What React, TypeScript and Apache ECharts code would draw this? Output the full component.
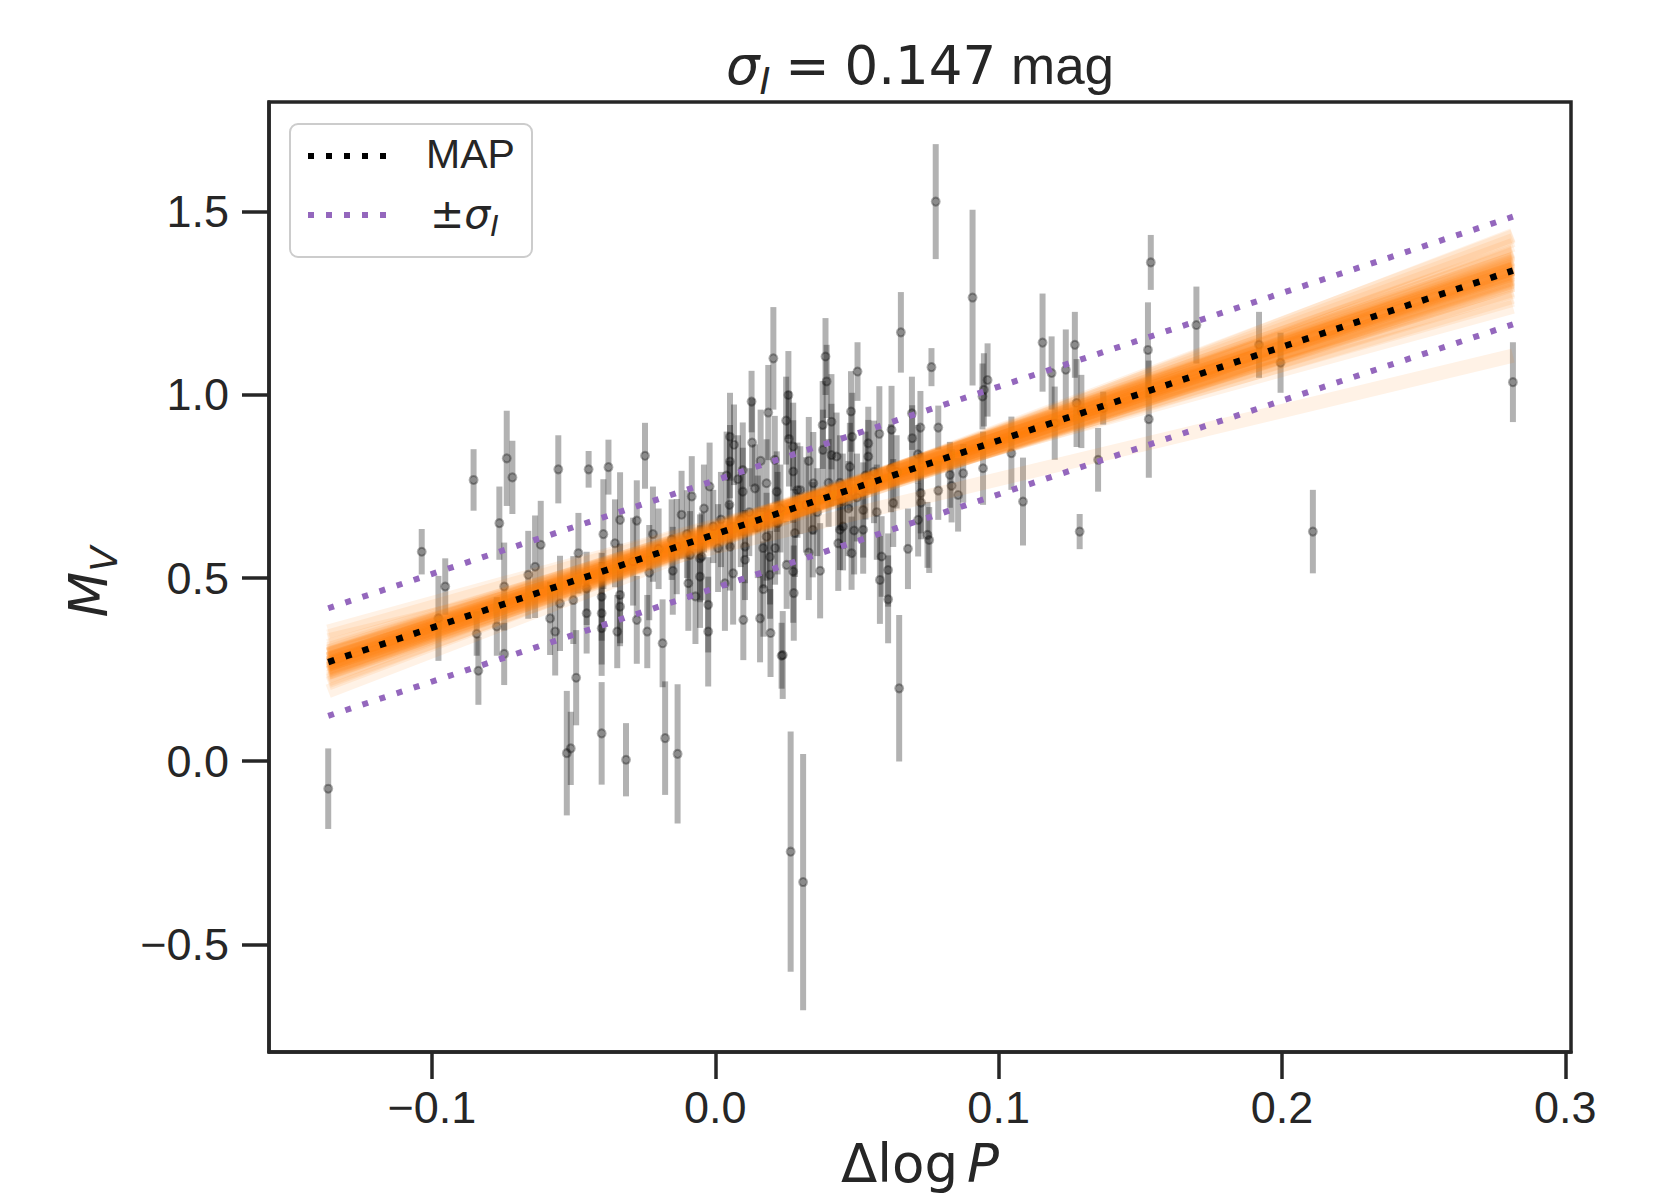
import React, { useEffect, useRef } from "react";
import * as echarts from "echarts";

// Observed data: Δlog P, M_V and its 1σ uncertainty
const dlogP = [
  -0.1366, -0.1036, -0.0977, -0.0953, -0.0853, -0.0842, -0.0836, -0.0762, -0.0736, -0.0716,
  -0.0745, -0.0771, -0.0745, -0.066, -0.0636, -0.0616, -0.0554, -0.0583, -0.0565, -0.0548,
  -0.0524, -0.051, -0.0491, -0.0483, -0.0501, -0.0454, -0.0454, -0.0447, -0.0401, -0.0401,
  -0.0401, -0.0401, -0.0395, -0.0377, -0.0354, -0.0336, -0.0336, -0.0336, -0.0346, -0.0315,
  -0.0277, -0.0277, -0.0248, -0.0233, -0.024, -0.0186, -0.0177, -0.0133, -0.0119, -0.0095,
  -0.0089, -0.0083, -0.0054, -0.0054, -0.0025, -0.0025, -0.0007, 0.001, 0.0052, 0.0052,
  0.0063, 0.0052, 0.0099, 0.0097, 0.0097, 0.0105, 0.0105, 0.0128, 0.0158, 0.0169,
  0.0187, 0.0181, 0.0193, 0.0193, 0.0195, 0.021, 0.0234, 0.0258, 0.0275, 0.0277,
  0.0205, 0.0389, 0.0393, 0.0502, 0.0655, 0.0763, 0.0379, 0.041, 0.0479, 0.0483,
  0.054, 0.0579, 0.0622, 0.0724, 0.0695, 0.0787, 0.0961, 0.0943, 0.0945, 0.1155,
  0.1187, 0.1237, 0.1269, 0.1275, 0.1286, 0.1086, 0.1045, 0.1351, 0.1527, 0.153,
  0.0875, 0.0857, 0.0828, 0.0787, 0.0834, 0.0755, 0.0725, 0.0716, 0.0649, 0.061,
  0.061, 0.0587, 0.0581, 0.0628, 0.0522, 0.0522, 0.0481, 0.0451, 0.0434, 0.041,
  0.0475, 0.0346, 0.0344, 0.0281, 0.0275, 0.0238, 0.0181, 0.0217, 0.0034, -0.0048,
  0.1537, 0.1698, 0.1919, 0.1995, 0.2815, 0.2109, 0.1369, 0.1198, 0.1292, 0.0778,
  0.0908, 0.0948, 0.0266, 0.031, 0.014, 0.0211, 0.0252, 0.044, 0.0275, 0.0428,
  0.054, -0.0136, -0.0154, 0.0715, 0.0726, 0.0749, 0.0694, 0.0066, 0.005, 0.002,
  0.012, 0.015, 0.023, 0.032, 0.036, 0.033, -0.002, -0.01, -0.02, -0.029,
  0.044, 0.05, 0.056, 0.038, 0.03, 0.047, 0.062, 0.016, 0.008, 0.026,
  0.004, 0.009, 0.013, 0.017, 0.022, 0.025, 0.029, 0.033, 0.037, 0.04,
  0.045, 0.049, 0.053, 0.057, -0.004, -0.007, -0.015, -0.022, 0.064, 0.068,
];
const magV = [
  -0.075, 0.572, 0.39, 0.477, 0.768, 0.348, 0.247, 0.65, 0.827, 0.775,
  0.477, 0.368, 0.293, 0.509, 0.531, 0.591, 0.797, 0.39, 0.354, 0.431,
  0.022, 0.035, 0.228, 0.568, 0.44, 0.472, 0.404, 0.797, 0.449, 0.404,
  0.363, 0.076, 0.62, 0.803, 0.595, 0.659, 0.454, 0.422, 0.354, 0.004,
  0.657, 0.386, 0.834, 0.515, 0.354, 0.322, 0.063, 0.02, 0.673, 0.486,
  0.563, 0.723, 0.504, 0.554, 0.427, 0.354, 0.641, 0.582, 0.886, 0.818,
  0.513, 0.586, 0.386, 0.795, 0.736, 0.586, 0.55, 0.982, 0.39, 0.582,
  0.952, 0.613, 0.558, 0.509, 0.35, 0.823, 0.288, 1.0, 0.791, 0.459,
  1.1, 1.105, 1.037, 1.064, 1.171, 1.076, 0.918, 0.927, 0.955, 0.886,
  0.868, 0.894, 0.905, 0.911, 0.882, 0.911, 1.041, 0.996, 0.8, 1.143,
  1.06, 1.069, 1.137, 0.978, 0.627, 0.709, 0.841, 0.823, 1.123, 0.934,
  0.786, 0.727, 0.782, 0.739, 0.752, 0.604, 0.732, 0.659, 0.199, 0.442,
  0.522, 0.559, 0.495, 0.705, 0.686, 0.632, 0.568, 0.641, 0.595, 0.836,
  0.804, 0.759, 0.632, 0.623, 0.518, 0.29, 0.759, 0.736, 0.486, 0.559,
  1.362, 1.191, 1.137, 1.088, 1.035, 0.627, 0.964, 0.923, 0.955, 1.528,
  1.266, 1.014, -0.247, -0.33, 0.745, 0.582, 0.536, 0.632, 0.859, 0.832,
  0.832, 0.586, 0.605, 0.838, 0.706, 0.618, 0.95, 0.864, 0.7, 0.66,
  0.68, 0.64, 0.69, 0.7, 0.68, 0.57, 0.75, 0.62, 0.58, 0.545,
  0.76, 0.72, 0.79, 0.85, 0.74, 0.69, 0.8, 0.82, 0.77, 0.88,
  0.78, 0.66, 0.87, 0.47, 0.65, 0.93, 0.74, 0.82, 0.52, 0.76,
  0.71, 0.63, 0.78, 0.68, 0.69, 0.45, 0.52, 0.62, 0.79, 0.58,
];
const magErr = [
  0.11, 0.062, 0.116, 0.077, 0.084, 0.06, 0.093, 0.1, 0.13, 0.1,
  0.12, 0.08, 0.085, 0.12, 0.14, 0.12, 0.093, 0.1, 0.12, 0.13,
  0.17, 0.1, 0.13, 0.11, 0.12, 0.1, 0.11, 0.05, 0.12, 0.14,
  0.13, 0.14, 0.15, 0.075, 0.12, 0.13, 0.14, 0.1, 0.1, 0.1,
  0.11, 0.12, 0.09, 0.13, 0.1, 0.12, 0.155, 0.19, 0.12, 0.13,
  0.12, 0.11, 0.14, 0.12, 0.13, 0.15, 0.1, 0.12, 0.12, 0.1,
  0.14, 0.12, 0.11, 0.13, 0.12, 0.1, 0.11, 0.084, 0.12, 0.11,
  0.13, 0.12, 0.13, 0.12, 0.12, 0.12, 0.09, 0.12, 0.14, 0.13,
  0.14, 0.105, 0.1, 0.08, 0.11, 0.052, 0.12, 0.13, 0.11, 0.12,
  0.1, 0.13, 0.12, 0.1, 0.09, 0.06, 0.1, 0.09, 0.1, 0.134,
  0.1, 0.11, 0.09, 0.12, 0.048, 0.12, 0.1, 0.087, 0.13, 0.16,
  0.08, 0.1, 0.09, 0.08, 0.1, 0.09, 0.11, 0.1, 0.2, 0.12,
  0.1, 0.11, 0.12, 0.12, 0.13, 0.12, 0.1, 0.12, 0.13, 0.14,
  0.12, 0.14, 0.13, 0.12, 0.14, 0.12, 0.12, 0.11, 0.13, 0.12,
  0.075, 0.105, 0.09, 0.082, 0.109, 0.114, 0.045, 0.1, 0.1, 0.157,
  0.24, 0.1, 0.328, 0.35, 0.12, 0.1, 0.12, 0.11, 0.12, 0.12,
  0.1, 0.13, 0.11, 0.08, 0.1, 0.09, 0.1, 0.11, 0.12, 0.13,
  0.12, 0.14, 0.12, 0.13, 0.12, 0.13, 0.12, 0.12, 0.11, 0.12,
  0.13, 0.12, 0.14, 0.11, 0.12, 0.13, 0.12, 0.14, 0.12, 0.13,
  0.12, 0.13, 0.12, 0.13, 0.14, 0.12, 0.13, 0.12, 0.13, 0.12,
  0.13, 0.12, 0.12, 0.13, 0.12, 0.13, 0.12, 0.13, 0.1, 0.11,
];

// Posterior samples of the relation M_V = a + b·Δlog P
const sampleIntercept = [
  0.628, 0.606, 0.632, 0.622, 0.611, 0.63, 0.614, 0.619, 0.609, 0.633,
  0.604, 0.631, 0.617, 0.616, 0.612, 0.636, 0.607, 0.619, 0.627, 0.602,
  0.612, 0.621, 0.624, 0.634, 0.611, 0.626, 0.613, 0.603, 0.635, 0.608,
  0.626, 0.611, 0.625, 0.615, 0.629, 0.641, 0.598, 0.644, 0.6, 0.638,
  0.62, 0.606, 0.584,
];
const sampleSlope = [
  2.55, 2.62, 2.48, 2.7, 2.51, 2.58, 2.44, 2.75, 2.53, 2.6,
  2.66, 2.5, 2.38, 2.82, 2.57, 2.46, 2.68, 2.42, 2.63, 2.54,
  2.88, 2.35, 2.72, 2.4, 2.59, 2.65, 2.49, 2.78, 2.52, 2.61,
  2.28, 2.92, 2.56, 2.45, 2.64, 2.2, 2.98, 2.12, 2.58, 2.52,
  2.6, 2.5, 1.86,
];
const mapIntercept = 0.62;
const mapSlope = 2.557;
const sigmaIntrinsic = 0.147;

const xTicks = [-0.1, 0.0, 0.1, 0.2, 0.3];
const yTicks = [-0.5, 0.0, 0.5, 1.0, 1.5];
const xRange = [-0.1575, 0.302];
const yRange = [-0.794, 1.8];

const INK = "#262626";
const SANS = "Liberation Sans";
const MATH = "DejaVu Sans";

type Run = { text: string; size: number; family: string; italic?: boolean; dy?: number; gap?: number };

let measureCanvas: HTMLCanvasElement | null = null;
function measure(r: Run): number {
  if (!measureCanvas) measureCanvas = document.createElement("canvas");
  const ctx = measureCanvas.getContext("2d")!;
  ctx.font = `${r.italic ? "italic " : ""}${r.size}px "${r.family}"`;
  return ctx.measureText(r.text).width;
}
function runsWidth(runs: Run[]): number {
  return runs.reduce((s, r) => s + (r.gap || 0) * r.size + measure(r), 0);
}
function runsToTexts(runs: Run[], x0: number, baseline: number, fill: string, z = 100): any[] {
  const els: any[] = [];
  let x = x0;
  for (const r of runs) {
    x += (r.gap || 0) * r.size;
    els.push({
      type: "text",
      x,
      y: baseline + (r.dy || 0) - 0.346 * r.size,
      z,
      silent: true,
      style: {
        text: r.text,
        fontSize: r.size,
        fontFamily: r.family,
        fontStyle: r.italic ? "italic" : "normal",
        fill,
        align: "left",
        verticalAlign: "middle",
        textAlign: "left",
        textVerticalAlign: "middle",
      },
    });
    x += measure(r);
  }
  return els;
}

const fmt = (v: number) => (v < 0 ? "\u2212" + Math.abs(v).toFixed(1) : v.toFixed(1));

export default function App() {
  const ref = useRef<HTMLDivElement>(null);
  useEffect(() => {
    if (!ref.current) return;
    const chart = echarts.init(ref.current, undefined, { renderer: "svg" });

    const x0 = Math.min(...dlogP);
    const x1 = Math.max(...dlogP);
    const lineOf = (a: number, b: number) => [
      [x0, a + b * x0],
      [x1, a + b * x1],
    ];

    const sampleSeries = sampleIntercept.map((a, i) => ({
      type: "line",
      data: lineOf(a, sampleSlope[i]),
      showSymbol: false,
      symbol: "none",
      silent: true,
      lineStyle: { color: "#ff7f0e", width: 14, opacity: 0.1, cap: "butt" },
    }));

    const obs = dlogP.map((x, i) => [x, magV[i], magErr[i]]);

    // Title: σ_I = 0.147 mag
    const T = 53;
    const titleRuns: Run[] = [
      { text: "σ", size: T, family: MATH, italic: true },
      { text: "I", size: 37, family: MATH, italic: true, dy: 10 },
      { text: "=", size: T, family: MATH, gap: 0.28 },
      { text: "0.147", size: T, family: MATH, gap: 0.28 },
      { text: "mag", size: T, family: SANS, gap: 0.278 },
    ];
    const titleW = runsWidth(titleRuns);
    const titleEls = runsToTexts(titleRuns, 920 - titleW / 2, 84, INK);

    // x label: Δlog P
    const xlRuns: Run[] = [
      { text: "Δ", size: 53, family: MATH },
      { text: "log", size: 53, family: MATH },
      { text: "P", size: 53, family: MATH, italic: true, gap: 0.17 },
    ];
    const xlW = runsWidth(xlRuns);
    const xlEls = runsToTexts(xlRuns, 920 - xlW / 2, 1182, INK);

    // y label: M_V (rotated)
    const ylRuns: Run[] = [
      { text: "M", size: 53, family: MATH, italic: true },
      { text: "V", size: 37, family: MATH, italic: true, dy: 10 },
    ];
    const ylW = runsWidth(ylRuns);
    const ylEls = runsToTexts(ylRuns, -ylW / 2, 0, INK);

    // Legend
    const legendEls: any[] = [
      {
        type: "rect",
        z: 100,
        silent: true,
        shape: { x: 290, y: 124, width: 242, height: 133, r: 8 },
        style: { fill: "rgba(255,255,255,0.8)", stroke: "#cccccc", lineWidth: 2 },
      },
      {
        type: "line",
        z: 101,
        silent: true,
        shape: { x1: 308, y1: 156, x2: 388, y2: 156 },
        style: { stroke: "#000000", lineWidth: 6, lineDash: [6, 12], lineCap: "butt" },
      },
      {
        type: "line",
        z: 101,
        silent: true,
        shape: { x1: 308, y1: 215, x2: 388, y2: 215 },
        style: { stroke: "#9467bd", lineWidth: 6, lineDash: [6, 12], lineCap: "butt" },
      },
      ...runsToTexts([{ text: "MAP", size: 41, family: SANS }], 426, 168, INK, 101),
      ...runsToTexts(
        [
          { text: "±", size: 41, family: MATH },
          { text: "σ", size: 41, family: MATH, italic: true },
          { text: "I", size: 29, family: MATH, italic: true, dy: 8 },
        ],
        430,
        228,
        INK,
        101
      ),
    ];

    const option: any = {
      animation: false,
      backgroundColor: "#ffffff",
      grid: {
        left: 269,
        top: 102,
        right: 108,
        bottom: 145,
        show: true,
        borderColor: INK,
        borderWidth: 3.5,
        backgroundColor: "transparent",
      },
      xAxis: {
        type: "value",
        min: xRange[0],
        max: xRange[1],
        splitLine: { show: false },
        axisLine: { show: true, onZero: false, lineStyle: { color: INK, width: 3.5 } },
        axisTick: { show: true, inside: false, length: 27, customValues: xTicks, lineStyle: { color: INK, width: 3.5 } },
        axisLabel: {
          customValues: xTicks,
          formatter: fmt,
          fontSize: 45,
          fontFamily: SANS,
          color: INK,
          margin: 33,
        },
      },
      yAxis: {
        type: "value",
        min: yRange[0],
        max: yRange[1],
        splitLine: { show: false },
        axisLine: { show: true, onZero: false, lineStyle: { color: INK, width: 3.5 } },
        axisTick: { show: true, inside: false, length: 27, customValues: yTicks, lineStyle: { color: INK, width: 3.5 } },
        axisLabel: {
          customValues: yTicks,
          formatter: fmt,
          fontSize: 45,
          fontFamily: SANS,
          color: INK,
          margin: 40,
        },
      },
      series: [
        ...sampleSeries,
        {
          type: "custom",
          silent: true,
          data: obs,
          encode: { x: 0, y: 1 },
          renderItem: (_p: any, api: any) => {
            const x = api.value(0);
            const y = api.value(1);
            const e = api.value(2);
            const a = api.coord([x, y - e]);
            const b = api.coord([x, y + e]);
            return {
              type: "line",
              shape: { x1: a[0], y1: a[1], x2: b[0], y2: b[1] },
              style: { stroke: "rgba(0,0,0,0.3)", lineWidth: 6, lineCap: "butt" },
            };
          },
        },
        {
          type: "scatter",
          silent: true,
          data: obs.map((d) => [d[0], d[1]]),
          symbol: "circle",
          symbolSize: 8,
          itemStyle: { color: "rgba(0,0,0,0.28)", borderColor: "rgba(0,0,0,0.38)", borderWidth: 2 },
        },
        {
          type: "line",
          silent: true,
          symbol: "none",
          showSymbol: false,
          data: lineOf(mapIntercept + sigmaIntrinsic, mapSlope),
          lineStyle: { color: "#9467bd", width: 6, type: [6, 12], cap: "butt" },
        },
        {
          type: "line",
          silent: true,
          symbol: "none",
          showSymbol: false,
          data: lineOf(mapIntercept - sigmaIntrinsic, mapSlope),
          lineStyle: { color: "#9467bd", width: 6, type: [6, 12], cap: "butt" },
        },
        {
          type: "line",
          silent: true,
          symbol: "none",
          showSymbol: false,
          data: lineOf(mapIntercept, mapSlope),
          lineStyle: { color: "#000000", width: 6.5, type: [6.5, 11.5], cap: "butt" },
        },
      ],
      graphic: {
        elements: [
          ...titleEls,
          ...xlEls,
          {
            type: "group",
            x: 107,
            y: 582,
            rotation: Math.PI / 2,
            z: 100,
            children: ylEls,
          },
          ...legendEls,
        ],
      },
    };
    chart.setOption(option);
    return () => chart.dispose();
  }, []);

  return (
    <div
      ref={ref}
      style={{ position: "absolute", left: 0, top: 0, width: 1679, height: 1197, background: "#ffffff" }}
    />
  );
}
